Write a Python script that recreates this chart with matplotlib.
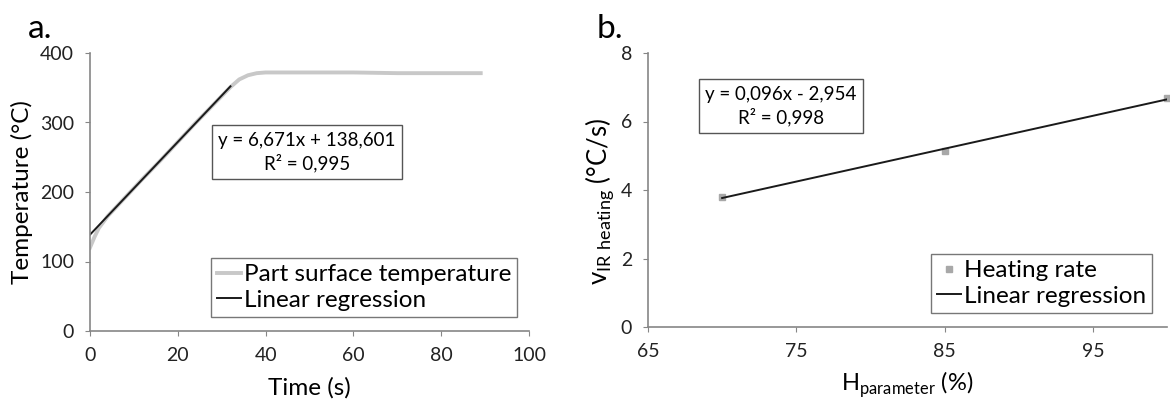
import matplotlib
matplotlib.use('Agg')
import matplotlib.pyplot as plt

plt.rcParams['font.family'] = ['Lato', 'DejaVu Sans']

# panel a: part surface temperature vs time
time_s = [0, 1, 2, 4, 8, 12, 16, 20, 24, 28, 32, 34, 36, 38, 40, 50, 60, 70, 80, 89]
temp_c = [120, 135, 148, 165, 192, 219, 245, 272, 299, 325, 351, 362, 368, 371, 372,
          372, 372, 371, 371, 371]
fit_a_x = [0, 32]
fit_a_slope, fit_a_icpt = 6.671, 138.601

# panel b: heating rate vs H parameter
h_param = [70, 85, 100]
heat_rate = [3.8, 5.15, 6.7]
fit_b_x = [70, 100]
fit_b_slope, fit_b_icpt = 0.096, -2.954

axis_col = '#868686'
W, H = 1170, 401
fig = plt.figure(figsize=(W / 100, H / 100), dpi=100)


def style(ax):
    for s in ['top', 'right']:
        ax.spines[s].set_visible(False)
    for s in ['left', 'bottom']:
        ax.spines[s].set_color(axis_col)
        ax.spines[s].set_linewidth(1.2)
    ax.tick_params(colors=axis_col, labelcolor='#222222', labelsize=14,
                   direction='out', length=3.5, pad=8)


def legend(ax, right, bottom):
    lg = ax.legend(loc='lower right', bbox_to_anchor=(right / W, 1 - bottom / H),
                   bbox_transform=fig.transFigure, fontsize=17.5, handlelength=1.0,
                   handletextpad=0.1, borderpad=0.25, labelspacing=0.2,
                   borderaxespad=0, fancybox=False)
    lg.get_frame().set_edgecolor('#555555')
    return lg


# ---- a ----
ax1 = fig.add_axes([90 / W, 1 - 331 / H, 439 / W, 278 / H])
style(ax1)
ax1.plot(time_s, temp_c, color='#c8c8c8', lw=2.8, label='Part surface temperature')
ax1.plot(fit_a_x, [fit_a_slope * x + fit_a_icpt for x in fit_a_x], color='#1a1a1a',
         lw=1.4, label='Linear regression')
ax1.set_xlim(0, 100)
ax1.set_ylim(0, 400)
ax1.set_xticks([0, 20, 40, 60, 80, 100])
ax1.set_yticks([0, 100, 200, 300, 400])
ax1.set_xlabel('Time (s)', fontsize=17.5)
ax1.set_ylabel('Temperature (°C)', fontsize=17.5)
ax1.xaxis.set_label_coords(0.5, -0.165)
ax1.yaxis.set_label_coords(-0.13, 0.5)
legend(ax1, 517, 317)
fig.text(307 / W, 1 - 152 / H, 'y = 6,671x + 138,601\nR² = 0,995', ha='center', va='center',
         fontsize=13.5, multialignment='center', linespacing=1.3,
         bbox=dict(boxstyle='square,pad=0.35', fc='white', ec='#555555', lw=1))
fig.text(28 / W, 1 - 29 / H, 'a.', fontsize=24, ha='left', va='center')

# ---- b ----
ax2 = fig.add_axes([648 / W, 1 - 327 / H, 519 / W, 274 / H])
style(ax2)
ax2.plot(h_param, heat_rate, 's', color='#a8a8a8', ms=4, label='Heating rate', clip_on=False)
ax2.plot(fit_b_x, [fit_b_slope * x + fit_b_icpt for x in fit_b_x], color='#1a1a1a',
         lw=1.4, label='Linear regression')
ax2.set_xlim(65, 100)
ax2.set_ylim(0, 8)
ax2.set_xticks([65, 75, 85, 95])
ax2.set_yticks([0, 2, 4, 6, 8])
ax2.set_xlabel(r'H$_\mathregular{parameter}$ (%)', fontsize=17)
ax2.set_ylabel(r'v$_\mathregular{IR\ heating}$ (°C/s)', fontsize=18.5)
ax2.xaxis.set_label_coords(0.5, -0.155)
ax2.yaxis.set_label_coords(-0.062, 0.46)
legend(ax2, 1152, 313)
fig.text(781 / W, 1 - 106 / H, 'y = 0,096x - 2,954\nR² = 0,998', ha='center', va='center',
         fontsize=13.5, multialignment='center', linespacing=1.3,
         bbox=dict(boxstyle='square,pad=0.35', fc='white', ec='#555555', lw=1))
fig.text(597 / W, 1 - 29 / H, 'b.', fontsize=24, ha='left', va='center')

fig.savefig('out.png', dpi=100)
